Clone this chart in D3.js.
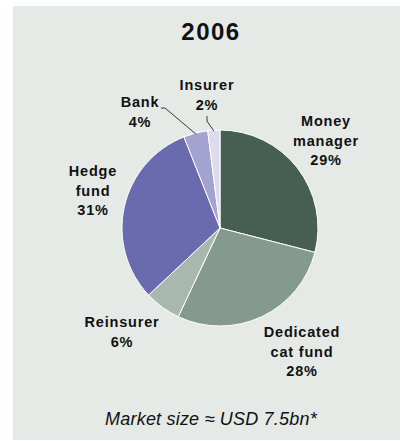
<!DOCTYPE html>
<html>
<head>
<meta charset="utf-8">
<script src="https://cdn.jsdelivr.net/npm/d3@7/dist/d3.min.js"></script>
<style>
  html, body { margin: 0; padding: 0; background: #ffffff; }
  svg { display: block; }
  text { font-family: "Liberation Sans", Arial, sans-serif; fill: #111; }
</style>
</head>
<body>
<svg id="chart" width="400" height="441"></svg>
<script>
// Investor shares of the market, 2006 (clockwise from 12 o'clock)
const categories = ["Money manager", "Dedicated cat fund", "Reinsurer", "Hedge fund", "Bank", "Insurer"];
const labelLines = [["Money", "manager"], ["Dedicated", "cat fund"], ["Reinsurer"], ["Hedge", "fund"], ["Bank"], ["Insurer"]];
const values = [29, 28, 6, 31, 4, 2];
const palette = ["#465f52", "#849a8e", "#a8b8ae", "#6a6aae", "#a4a2cf", "#dcdcee"];
const title = "2006";
const footnote = "Market size \u2248 USD 7.5bn*";

const W = 400, H = 441;
const cx = 220, cy = 228, radius = 98;
const lineH = 19.5;

// label anchors: centre x, first baseline y
const labelPos = [
  [326, 126], [302, 337], [122, 327], [93, 176], [140, 107], [207, 90]
];
// leader lines for the thin slices: start point, elbow
const leaders = {
  4: [[161, 108], [165, 108]],
  5: [[207, 116], [207, 121]]
};

const svg = d3.select("#chart");

svg.append("rect")
  .attr("x", 13).attr("y", 6)
  .attr("width", W - 13).attr("height", 434)
  .attr("fill", "#e5eae7");

svg.append("text")
  .attr("x", 211).attr("y", 40)
  .attr("text-anchor", "middle")
  .style("font-size", "24px").style("font-weight", "bold")
  .style("letter-spacing", "1.5px")
  .text(title);

const data = categories.map((c, i) => ({ name: c, value: values[i], i }));

const pie = d3.pie().sort(null).value(d => d.value);
const arc = d3.arc().innerRadius(0).outerRadius(radius);
const arcs = pie(data);

const g = svg.append("g").attr("transform", `translate(${cx},${cy})`);
g.selectAll("path")
  .data(arcs)
  .join("path")
  .attr("d", arc)
  .attr("fill", d => palette[d.data.i])
  .attr("stroke", "#ffffff")
  .attr("stroke-width", 1);

// leader lines end on the slice edge at its mid angle
const edge = d3.arc().innerRadius(radius - 1).outerRadius(radius - 1);
Object.keys(leaders).forEach(k => {
  const a = arcs[+k];
  const [ex, ey] = edge.centroid(a);
  const pts = leaders[k].concat([[cx + ex, cy + ey]]);
  svg.append("path")
    .attr("d", d3.line()(pts))
    .attr("fill", "none")
    .attr("stroke", "#222")
    .attr("stroke-width", 0.9);
});

// category labels with percentages
data.forEach((d, i) => {
  const [x, y] = labelPos[i];
  const t = svg.append("text")
    .attr("text-anchor", "middle")
    .style("font-size", "14.5px").style("font-weight", "bold")
    .style("letter-spacing", "0.8px");
  const lines = labelLines[i].concat([d.value + "%"]);
  lines.forEach((ln, j) => {
    t.append("tspan").attr("x", x).attr("y", y + j * lineH).text(ln);
  });
});

svg.append("text")
  .attr("x", 211).attr("y", 425)
  .attr("text-anchor", "middle")
  .style("font-size", "18px").style("font-style", "italic")
  .style("letter-spacing", "0.2px")
  .text(footnote);
</script>
</body>
</html>
